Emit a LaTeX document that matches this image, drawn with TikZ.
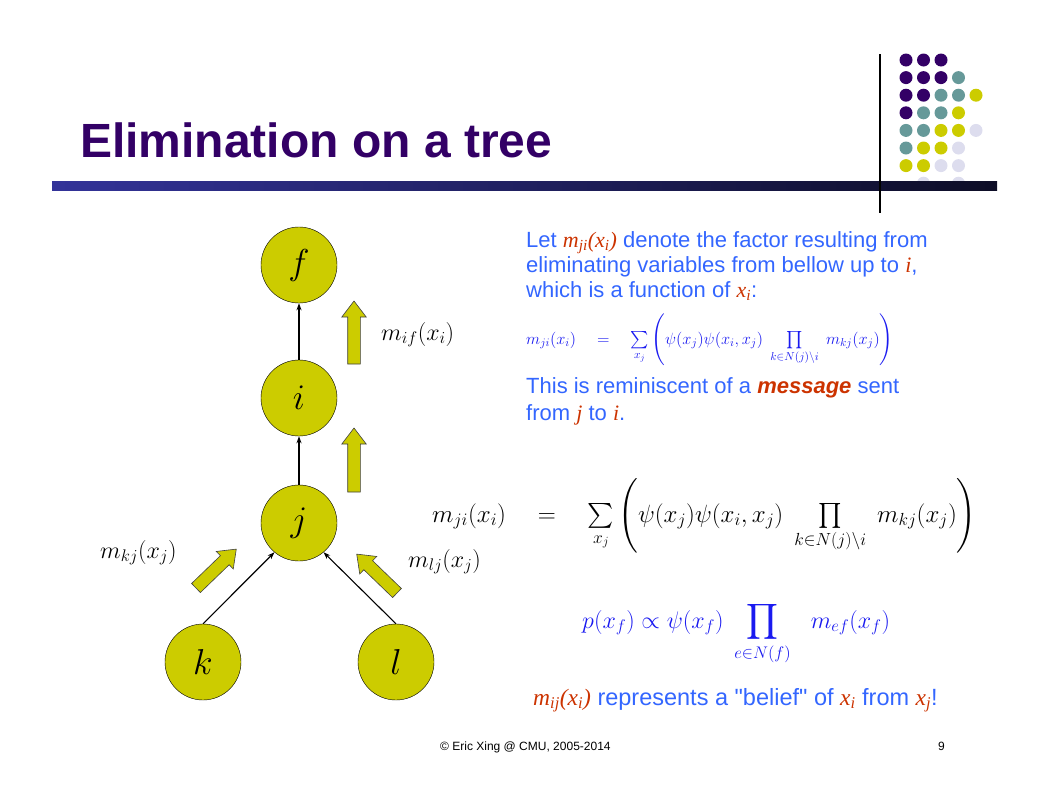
\RequirePackage{fix-cm}
\documentclass[tikz,border=0pt]{standalone}
\usepackage{exscale}
\usepackage[no-math]{fontspec}
\setmainfont{Liberation Sans}
\newfontfamily\timesfont{Liberation Serif}
\newfontfamily\quotefont{Liberation Sans}
\usetikzlibrary{arrows.meta}
\definecolor{slidepurple}{RGB}{51,0,102}
\definecolor{nodeyellow}{RGB}{204,204,0}
\definecolor{dotpurple}{RGB}{51,0,102}
\definecolor{dotteal}{RGB}{102,153,153}
\definecolor{dotlilac}{RGB}{221,221,238}
\definecolor{textblue}{RGB}{51,102,255}
\definecolor{textred}{RGB}{204,51,0}
\definecolor{mathblue}{RGB}{26,26,240}
\definecolor{barleft}{RGB}{51,51,153}
\definecolor{barright}{RGB}{13,13,38}
\tikzset{
  treenode/.style={circle, draw, fill=nodeyellow, minimum size=76pt, inner sep=0pt,
    font=\fontsize{36}{40}\selectfont},
  treeedge/.style={-{Stealth[length=7pt,width=5pt]}, line width=1.1pt},
  blockarrow/.style={draw=black!75, fill=nodeyellow, line width=0.6pt},
  msglabel/.style={anchor=base west, inner sep=0pt, font=\fontsize{24}{28}\selectfont},
  bodytext/.style={anchor=base west, inner sep=0pt, text=textblue, font=\fontsize{22}{25}\selectfont},
  eqtext/.style={anchor=base west, inner sep=0pt, font=\fontsize{#1}{#1}\selectfont},
}
\newcommand\hl[1]{{\color{textred}\timesfont\itshape #1}}
% tail x, tail y, angle, length
\newcommand\blockarrow[4]{%
  \draw[blockarrow, shift={(#1,#2)}, rotate=#3] (0,-6.3) -- (#4-16,-6.3) -- (#4-16,-12.2)
    -- (#4,0) -- (#4-16,12.2) -- (#4-16,6.3) -- (0,6.3) -- cycle;}

\begin{document}
\begin{tikzpicture}[x=1pt,y=-1pt]
  \useasboundingbox (0,0) rectangle (1049,801);
  % corner dots
  \foreach \c [count=\n from 0] in {dotpurple,dotpurple,dotpurple,none,none,
      dotpurple,dotpurple,dotpurple,dotteal,none,
      dotpurple,dotpurple,dotteal,dotteal,nodeyellow,
      dotpurple,dotteal,dotteal,nodeyellow,none,
      dotteal,dotteal,nodeyellow,nodeyellow,dotlilac,
      dotteal,nodeyellow,nodeyellow,dotlilac,none,
      nodeyellow,nodeyellow,dotlilac,dotlilac,none,
      none,dotlilac,none,dotlilac,none} {
    \pgfmathtruncatemacro\col{mod(\n,5)}
    \pgfmathtruncatemacro\row{div(\n,5)}
    \fill[fill=\c] (906+17.5*\col, 60+17.6*\row) circle (6.5);
  }
  \node[anchor=base west, inner sep=0pt, text=slidepurple,
    font=\fontsize{48}{52}\selectfont\bfseries] (title) at (80,157) {Elimination on a tree};
  \shade[left color=barleft, right color=barright] (52,181) rectangle (997,190);
  \draw[line width=2pt] (880,54) -- (880,213);

  % the tree
  \node[treenode] (f) at (299,265) {$f$};
  \node[treenode] (i) at (299,398) {$i$};
  \node[treenode] (j) at (299,523) {$j$};
  \node[treenode] (k) at (203,662) {$k$};
  \node[treenode] (l) at (396,662) {$l$};
  \draw[treeedge] (i) -- (f);
  \draw[treeedge] (j) -- (i);
  \draw[treeedge] (k.north) -- (j.230);
  \draw[treeedge] (l.north) -- (j.310);

  \blockarrow{354}{364}{90}{63}
  \blockarrow{354}{492}{90}{64}
  \blockarrow{196}{588}{44}{56}
  \blockarrow{397}{593}{136}{56}
  \node[msglabel] (mif) at (381,340) {$m_{if}(x_i)$};
  \node[msglabel] (mkj) at (100,558) {$m_{kj}(x_j)$};
  \node[msglabel] (mlj) at (408,567) {$m_{lj}(x_j)$};

  % text on the right
  \node[bodytext] (let) at (526,247) {Let \hl{m\textsubscript{ji}(x\textsubscript{i})} denote the factor resulting from};
  \node[bodytext] (elim) at (526,272) {eliminating variables from bellow up to \hl{i},};
  \node[bodytext] (which) at (526,297) {which is a function of \hl{x\textsubscript{i}}:};
  \node[eqtext=16.4, text=mathblue] (smalleq) at (526,344)
    {$m_{ji}(x_i)\quad=\quad\sum\limits_{x_j}\left(\psi(x_j)\psi(x_i,x_j)\;\prod\limits_{k\in N(j)\setminus i}\; m_{kj}(x_j)\right)$};
  \node[bodytext] (remind) at (526,393) {This is reminiscent of a {\color{textred}\bfseries\itshape message} sent};
  \node[bodytext] (fromto) at (526,420) {from \hl{j} to \hl{i}.};
  \node[eqtext=25] (msgeq) at (432,522)
    {$m_{ji}(x_i)\quad=\quad\sum\limits_{x_j}\left(\psi(x_j)\psi(x_i,x_j)\;\prod\limits_{k\in N(j)\setminus i}\; m_{kj}(x_j)\right)$};
  \node[eqtext=24, text=mathblue] (margeq) at (582,628)
    {$p(x_f)\propto\psi(x_f)\;\displaystyle\prod_{e\in N(f)}\mkern12mu m_{ef}(x_f)$};
  \node[bodytext, font=\fontsize{23.5}{26}\selectfont] (belief) at (533,705)
    {\hl{m\textsubscript{ij}(x\textsubscript{i})} represents a {\quotefont"}belief{\quotefont"} of \hl{x\textsubscript{i}} from \hl{x\textsubscript{j}}!};

  % footer
  \node[anchor=base west, inner sep=0pt, font=\fontsize{12}{14}\selectfont] (foot) at (440,750)
    {\textcopyright{} Eric Xing @ CMU, 2005-2014};
  \node[anchor=base west, inner sep=0pt, font=\fontsize{12}{14}\selectfont] (page) at (938,750) {9};
\end{tikzpicture}
\end{document}
